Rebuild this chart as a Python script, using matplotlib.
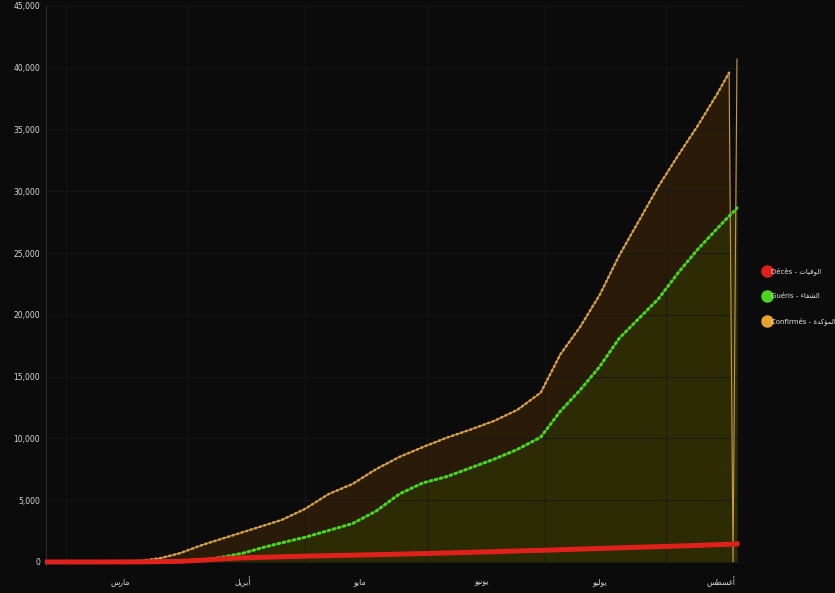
import matplotlib.pyplot as plt
from matplotlib.lines import Line2D
import numpy as np
import pandas as pd

# sample dates, values
dates = ['2020-02-25', '2020-03-01', '2020-03-05', '2020-03-10', '2020-03-15',
         '2020-03-20', '2020-03-25', '2020-03-30', '2020-04-05', '2020-04-10',
         '2020-04-15', '2020-04-20', '2020-04-25', '2020-05-01', '2020-05-07',
         '2020-05-13', '2020-05-19', '2020-05-25', '2020-05-31', '2020-06-06',
         '2020-06-12', '2020-06-18', '2020-06-24', '2020-06-30', '2020-07-05',
         '2020-07-10', '2020-07-15', '2020-07-20', '2020-07-25', '2020-07-30',
         '2020-08-04', '2020-08-09', '2020-08-14', '2020-08-17', '2020-08-18',
         '2020-08-19']
confirmed = [1, 1, 17, 20, 50, 90, 300, 700, 1400, 1900,
             2400, 2900, 3400, 4300, 5500, 6300, 7500, 8500, 9300, 10050,
             10700, 11400, 12300, 13700, 16800, 19000, 21600, 24800, 27600, 30400,
             32900, 35300, 37900, 39600, 0, 40700]
cured = [0, 0, 0, 0, 12, 30, 60, 100, 150, 400,
         700, 1150, 1550, 2000, 2550, 3100, 4100, 5500, 6400, 6900,
         7600, 8300, 9100, 10100, 12200, 13900, 15800, 18100, 19700, 21300,
         23400, 25300, 27000, 28000, 28300, 28650]
deaths = [0, 0, 0, 0, 4, 10, 25, 50, 150, 250,
          330, 380, 420, 470, 510, 550, 590, 630, 680, 730,
          780, 830, 890, 940, 990, 1040, 1090, 1140, 1190, 1240,
          1290, 1340, 1400, 1430, 1440, 1460]

y_ticks = [0, 5000, 10000, 15000, 20000, 25000, 30000, 35000, 40000, 45000]
month_labels = ['مارس', 'أبريل', 'مايو', 'يونيو', 'يوليو', 'أغسطس']
month_mids = ['2020-03-15', '2020-04-15', '2020-05-15', '2020-06-15', '2020-07-15', '2020-08-15']
month_starts = ['2020-03-01', '2020-04-01', '2020-05-01', '2020-06-01', '2020-07-01', '2020-08-01']

# matplotlib does no arabic shaping, so pick the presentation forms by hand
# (isolated, final, initial, medial)
forms = {
    'ا': ('\ufe8d', '\ufe8e', None, None),
    'أ': ('\ufe83', '\ufe84', None, None),
    'ب': ('\ufe8f', '\ufe90', '\ufe91', '\ufe92'),
    'ت': ('\ufe95', '\ufe96', '\ufe97', '\ufe98'),
    'د': ('\ufea9', '\ufeaa', None, None),
    'ر': ('\ufead', '\ufeae', None, None),
    'س': ('\ufeb1', '\ufeb2', '\ufeb3', '\ufeb4'),
    'ش': ('\ufeb5', '\ufeb6', '\ufeb7', '\ufeb8'),
    'ط': ('\ufec1', '\ufec2', '\ufec3', '\ufec4'),
    'غ': ('\ufecd', '\ufece', '\ufecf', '\ufed0'),
    'ف': ('\ufed1', '\ufed2', '\ufed3', '\ufed4'),
    'ك': ('\ufed9', '\ufeda', '\ufedb', '\ufedc'),
    'ل': ('\ufedd', '\ufede', '\ufedf', '\ufee0'),
    'م': ('\ufee1', '\ufee2', '\ufee3', '\ufee4'),
    'ن': ('\ufee5', '\ufee6', '\ufee7', '\ufee8'),
    'و': ('\ufeed', '\ufeee', None, None),
    'ؤ': ('\ufe85', '\ufe86', None, None),
    'ي': ('\ufef1', '\ufef2', '\ufef3', '\ufef4'),
    'ة': ('\ufe93', '\ufe94', None, None),
    'ء': ('\ufe80', None, None, None),
}


def arabic(word):
    out = []
    for i, ch in enumerate(word):
        f = forms[ch]
        prev = word[i - 1] if i > 0 else None
        nxt = word[i + 1] if i < len(word) - 1 else None
        join_prev = prev is not None and forms[prev][2] is not None and f[1] is not None
        join_next = nxt is not None and f[2] is not None and forms[nxt][1] is not None
        if join_prev and join_next:
            out.append(f[3])
        elif join_prev:
            out.append(f[1])
        elif join_next:
            out.append(f[2])
        else:
            out.append(f[0])
    return ''.join(reversed(out))


x = pd.to_datetime(dates)
conf = np.array(confirmed, dtype=float)
# the missing day (0 near the end) is drawn as a thin solid drop, not as dots
conf_dots = conf.copy()
conf_dots[10:][conf[10:] == 0] = np.nan

bg = '#0b0b0b'
fig = plt.figure(figsize=(8.35, 5.93), dpi=100, facecolor=bg)
ax = fig.add_axes([0.054, 0.044, 0.838, 0.946], facecolor=bg)

# filled areas under confirmed and cured
ax.fill_between(x, 0, confirmed, color='#2a1b08', lw=0)
ax.fill_between(x, 0, cured, color='#2c2b03', lw=0)

# the three series
ax.plot(x, conf, color='#c99a45', lw=0.8, zorder=3)
ax.plot(x, conf_dots, color='#d59e45', lw=1.8, linestyle=(0, (0.6, 1.3)),
        dash_capstyle='round', zorder=4)
ax.plot(x, cured, color='#48d61e', lw=2.2, linestyle=(0, (0.6, 1.1)),
        dash_capstyle='round', zorder=4)
ax.plot(x, deaths, color='#e0201a', lw=3.6, zorder=5)

# axes, grid, ticks
ax.set_xlim(pd.Timestamp('2020-02-24 18:00'), pd.Timestamp('2020-08-21'))
ax.set_ylim(-400, 45000)
ax.set_yticks(y_ticks)
ax.set_yticklabels([f'{v:,}' for v in y_ticks])
ax.set_xticks(pd.to_datetime(month_starts))
ax.set_xticklabels([])
ax.set_xticks(pd.to_datetime(month_mids), minor=True)
ax.set_xticklabels([arabic(m) for m in month_labels], minor=True)
ax.tick_params(axis='both', which='both', length=0, colors='#d8d8d8', labelsize=5.5)
ax.tick_params(axis='x', which='minor', pad=7)
ax.grid(True, which='major', color='#181818', lw=0.6)
for s in ax.spines.values():
    s.set_visible(False)
ax.axvline(pd.Timestamp('2020-02-25'), color='#2a2a2a', lw=0.8, zorder=1)

# legend on the right
handles = [Line2D([], [], color='#e0201a', marker='o', ls='none', markersize=8),
           Line2D([], [], color='#48d61e', marker='o', ls='none', markersize=8),
           Line2D([], [], color='#e8a32a', marker='o', ls='none', markersize=8)]
labels = ['Décès - ' + arabic('الوفيات'),
          'Guéris - ' + arabic('الشفاء'),
          'Confirmés - ' + arabic('المؤكدة')]
fig.legend(handles, labels, loc='center left', bbox_to_anchor=(0.912, 0.5),
           frameon=False, fontsize=5.0, labelcolor='#e0e0e0', labelspacing=2.6,
           handletextpad=0.05, handlelength=0.9, borderaxespad=0)

plt.savefig('out.png', dpi=100, facecolor=bg)
